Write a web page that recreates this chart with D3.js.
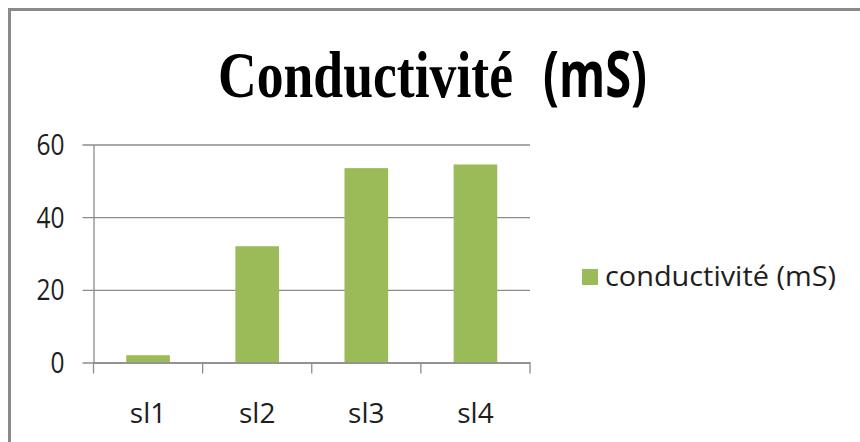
<!DOCTYPE html>
<html><head><meta charset="utf-8">
<script src="https://cdn.jsdelivr.net/npm/d3@7"></script>
<style>html,body{margin:0;padding:0;background:#fff;}</style>
</head><body>
<svg id="c" width="860" height="442"></svg>
<script>
const categories = ["sl1", "sl2", "sl3", "sl4"];
const values = [2, 32, 53.5, 54.5];
const yTicks = [0, 20, 40, 60];
const seriesName = "conductivité (mS)";
const titleMain = "Conductivité";
const titleUnit = "(mS)";

(function () {
const svg = d3.select("#c");
const barColor = "#9BBB59";
const gridColor = "#8c8c8c";
const textColor = "#1e1e1e";

// outer frame
svg.append("rect").attr("x", 9.5).attr("y", 9.5).attr("width", 880).attr("height", 500)
  .attr("fill", "none").attr("stroke", "#8a8a8a").attr("stroke-width", 3);

// helper: draw text squeezed horizontally to a given width via transform
function squeezed(str, x0, y0, width, family, size) {
  const t = svg.append("text").attr("font-family", family).attr("font-size", size)
    .attr("font-weight", "bold").attr("fill", "#000").text(str);
  const len = t.node().getComputedTextLength();
  t.attr("transform", `translate(${x0},${y0}) scale(${width / len},1)`);
  return t;
}
squeezed(titleMain, 218, 97, 295, "'Liberation Serif', 'Times New Roman', serif", 66);
squeezed(titleUnit, 543, 97, 104, "'Open Sans', sans-serif", 64);

const pLeft = 93.5, pRight = 530, pTop = 144.5, pBottom = 362.5;
const x = d3.scaleBand().domain(categories).range([pLeft, pRight]).padding(0);
const y = d3.scaleLinear().domain([0, 60]).range([pBottom, pTop]);

const g = svg.append("g");
const yAxis = d3.axisLeft(y).tickValues(yTicks).tickSize(-(pRight - pLeft)).tickSizeOuter(0).tickPadding(0);
const ya = g.append("g").attr("transform", `translate(${pLeft},0)`).call(yAxis);
ya.select(".domain").attr("stroke", gridColor).attr("stroke-width", 1.3);
ya.selectAll(".tick line").attr("stroke", gridColor).attr("stroke-width", 1.3).attr("x1", -11);
ya.selectAll(".tick text").attr("x", -29).attr("dy", "0.35em")
  .attr("font-family", "'Open Sans', sans-serif").attr("font-size", 29).attr("fill", textColor)
  .attr("textLength", function(d){ return String(d).length * 14; }).attr("lengthAdjust", "spacingAndGlyphs");

// bars
const bw = x.bandwidth() * 0.4;
g.selectAll("rect.bar").data(categories).enter().append("rect").attr("class", "bar")
  .attr("x", (d) => x(d) + (x.bandwidth() - bw) / 2)
  .attr("y", (d, i) => y(values[i]))
  .attr("width", bw)
  .attr("height", (d, i) => y(0) - y(values[i]))
  .attr("fill", barColor);

// x axis
const xa = g.append("g").attr("transform", `translate(0,${pBottom})`)
  .call(d3.axisBottom(x).tickSize(0).tickSizeOuter(0).tickPadding(0));
xa.select(".domain").attr("stroke", gridColor).attr("stroke-width", 1.3);
xa.selectAll(".tick text").attr("y", 0).attr("dy", "60")
  .attr("font-family", "'Open Sans', sans-serif").attr("font-size", 28).attr("fill", textColor);
const edges = categories.map(c => x(c)).concat([pRight]);
xa.selectAll("line.edge").data(edges).enter().append("line").attr("class", "edge")
  .attr("x1", d => d).attr("x2", d => d).attr("y1", 0).attr("y2", 11)
  .attr("stroke", gridColor).attr("stroke-width", 1.3);

// legend
const lg = svg.append("g").attr("transform", "translate(582,269)");
lg.append("rect").attr("width", 16).attr("height", 16).attr("fill", barColor);
lg.append("text").attr("x", 23).attr("y", 17)
  .attr("font-family", "'Open Sans', sans-serif").attr("font-size", 28).attr("fill", textColor)
  .attr("textLength", 231).attr("lengthAdjust", "spacingAndGlyphs")
  .text(seriesName);
})();
</script>
</body></html>
